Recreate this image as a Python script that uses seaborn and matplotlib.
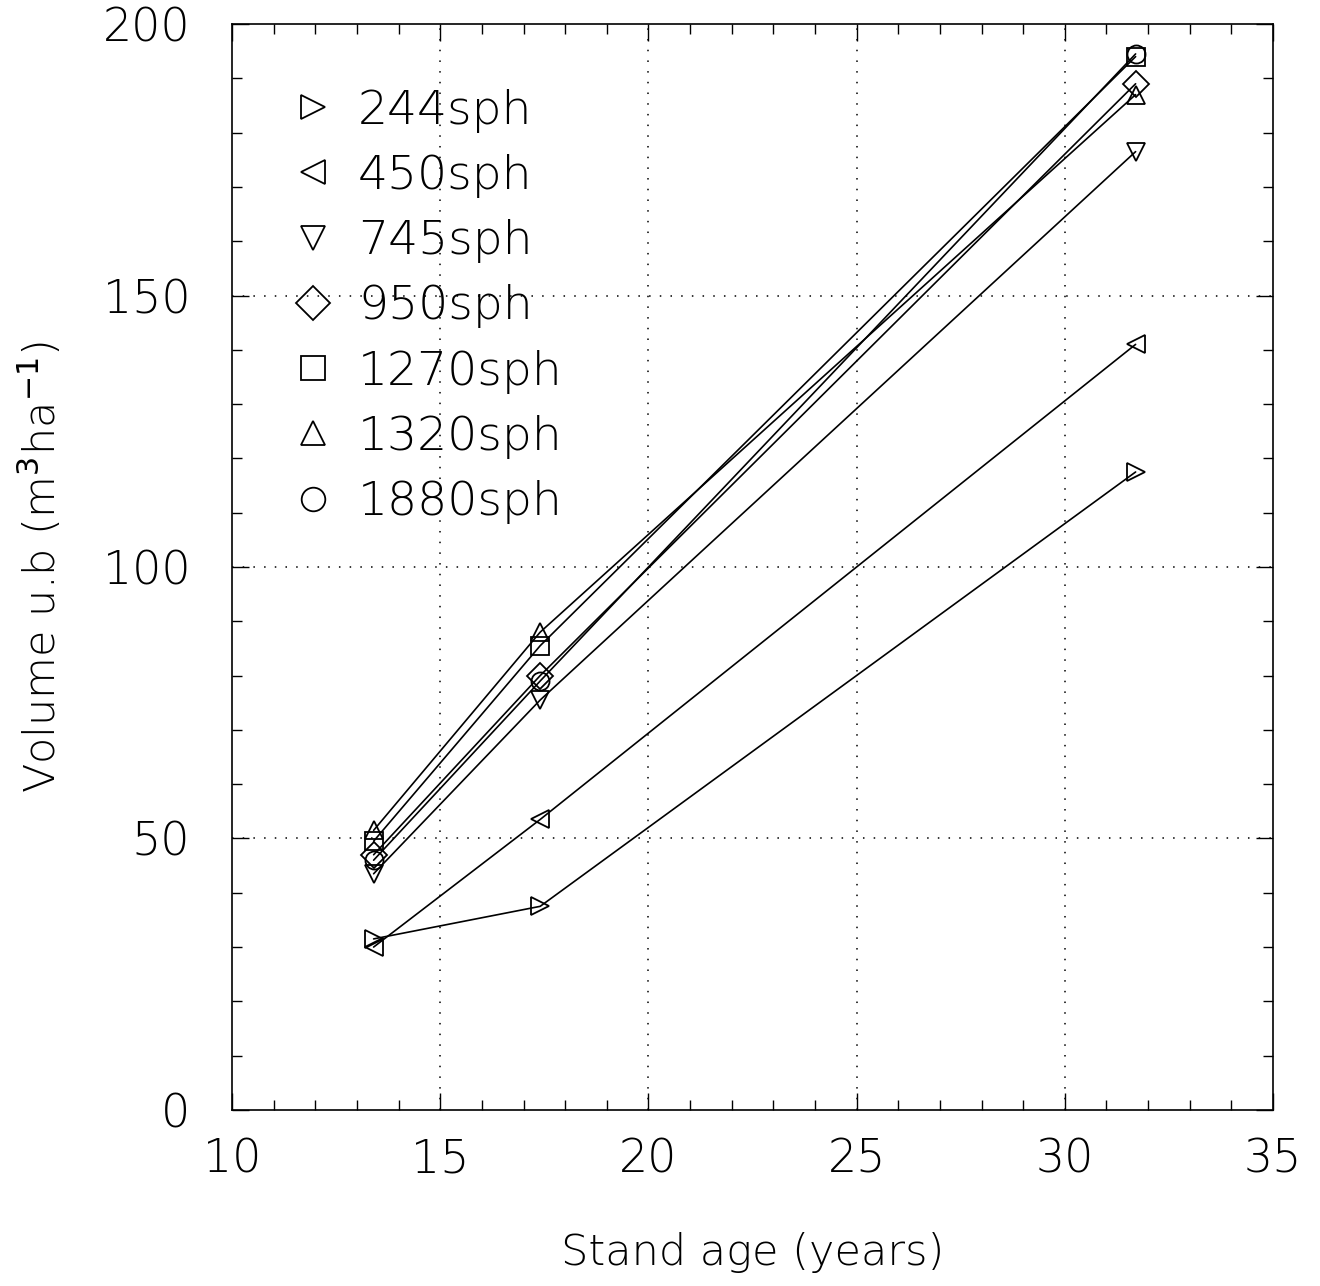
import matplotlib
matplotlib.use("Agg")
import matplotlib.pyplot as plt
import seaborn as sns
import pandas as pd
from matplotlib.ticker import MultipleLocator

# Stand age at each measurement (years)
ages = [13.4, 17.4, 31.7]

# Volume under bark (m3/ha) by stocking
densities = ["244sph", "450sph", "745sph", "950sph", "1270sph", "1320sph", "1880sph"]
vol_244 = [31.5, 37.5, 117.5]
vol_450 = [30.0, 53.5, 141.0]
vol_745 = [43.5, 75.5, 176.5]
vol_950 = [47.0, 80.0, 189.0]
vol_1270 = [49.5, 85.5, 194.0]
vol_1320 = [51.5, 88.0, 187.0]
vol_1880 = [46.0, 79.0, 194.5]

series = [vol_244, vol_450, vol_745, vol_950, vol_1270, vol_1320, vol_1880]
marker_map = dict(zip(densities, [">", "<", "v", "D", "s", "^", "o"]))

rows = []
for name, vals in zip(densities, series):
    for a, v in zip(ages, vals):
        rows.append({"age": a, "volume": v, "density": name})
df = pd.DataFrame(rows)

sns.set_style("ticks")
plt.rcParams["font.family"] = ["DejaVu Sans"]
plt.rcParams["text.color"] = "black"
plt.rcParams["axes.labelcolor"] = "black"
plt.rcParams["xtick.labelcolor"] = "black"
plt.rcParams["ytick.labelcolor"] = "black"

fig = plt.figure(figsize=(13.2, 12.86), dpi=100)
ax = fig.add_axes([0.1758, 0.1369, 0.7886, 0.8444])

sns.lineplot(data=df, x="age", y="volume", style="density", markers=marker_map,
             dashes=False, color="black", linewidth=1.2, markersize=13,
             markerfacecolor="none", markeredgecolor="black", markeredgewidth=1.3,
             ax=ax, legend=True, sort=False)

ax.set_xlim(10, 35)
ax.set_ylim(0, 200)
ax.xaxis.set_major_locator(MultipleLocator(5))
ax.xaxis.set_minor_locator(MultipleLocator(1))
ax.yaxis.set_major_locator(MultipleLocator(50))
ax.yaxis.set_minor_locator(MultipleLocator(10))
ax.tick_params(which="both", direction="in", top=True, right=True, width=1.0, color="black")
ax.tick_params(which="major", length=12, labelsize=33)
ax.tick_params(axis="y", which="major", pad=30)
ax.tick_params(axis="x", which="major", pad=20)
ax.tick_params(which="minor", length=7)
for lbl in ax.get_xticklabels() + ax.get_yticklabels():
    lbl.set_fontweight("light")

for x in [15, 20, 25, 30]:
    ax.axvline(x, color="black", linestyle=(0, (1, 6)), linewidth=1.1, zorder=0)
for y in [50, 100, 150]:
    ax.axhline(y, color="black", linestyle=(0, (1, 6)), linewidth=1.1, zorder=0)

for sp in ax.spines.values():
    sp.set_linewidth(1.2)
    sp.set_color("black")

ax.set_xlabel("Stand age (years)", fontsize=31, fontweight="light", labelpad=36)
ax.set_ylabel("Volume u.b (m$^3$ha$^{-1}$)", fontsize=31, fontweight="light", labelpad=28)

handles, labels = ax.get_legend_handles_labels()
for h in handles:
    h.set_linestyle("none")
    h.set_markersize(17)
leg = ax.legend(handles, labels, loc="upper left", bbox_to_anchor=(0.037, 0.958),
                frameon=False, fontsize=34, handletextpad=0.45, labelspacing=0.45,
                handlelength=1.0, borderaxespad=0)
for t in leg.get_texts():
    t.set_fontweight("light")

fig.savefig("out.png", dpi=100, facecolor="white")
